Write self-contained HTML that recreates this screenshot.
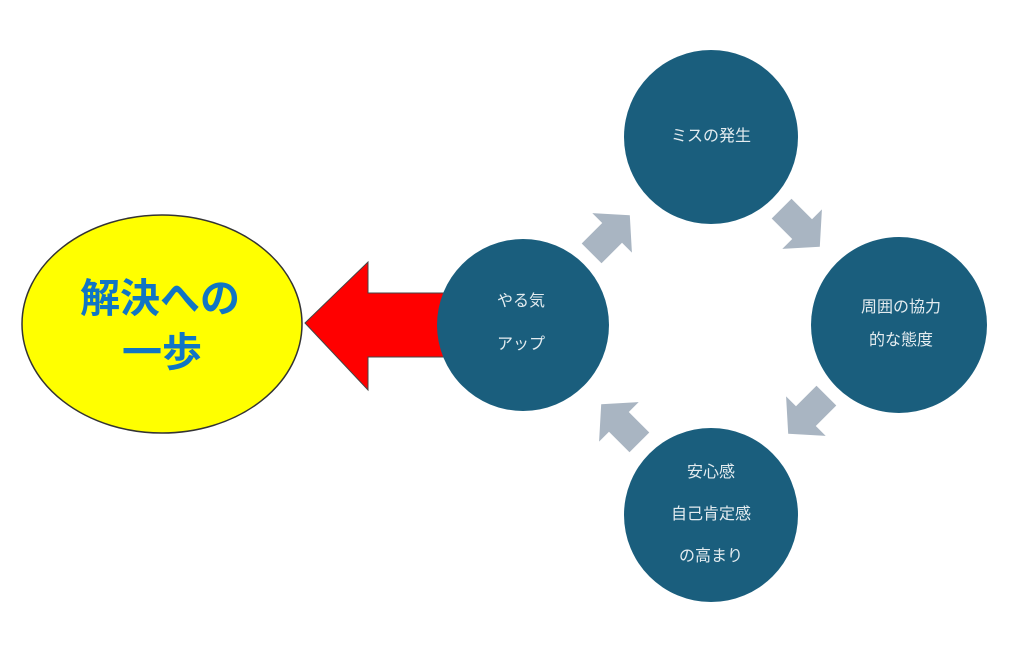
<!DOCTYPE html>
<html><head><meta charset="utf-8"><style>
html,body{margin:0;padding:0;background:#fff;width:1024px;height:648px;overflow:hidden}
svg text{font-family:"Liberation Sans","Noto Sans CJK JP",sans-serif}
</style></head><body>
<svg width="1024" height="648" viewBox="0 0 1024 648" xmlns="http://www.w3.org/2000/svg">
<defs>
<polygon id="ga" points="-26,-14 3,-14 3,-28 28,0 3,28 3,14 -26,14" fill="#a9b5c2"/>
</defs>
<ellipse cx="162" cy="324" rx="140" ry="109" fill="#ffff00" stroke="#333" stroke-width="1.5"/>
<text x="160" y="312" font-size="40" font-weight="bold" fill="#1075c4" text-anchor="middle">解決への</text>
<text x="162" y="366" font-size="40" font-weight="bold" fill="#1075c4" text-anchor="middle">一歩</text>
<polygon points="305,323 368,262 368,293 450,293 450,357 368,357 368,390" fill="#ff0000" stroke="#444" stroke-width="1"/>
<g fill="#1a5e7d">
<circle cx="523" cy="325" r="86"/>
<circle cx="711" cy="137" r="87"/>
<circle cx="899" cy="325" r="88"/>
<circle cx="711" cy="515" r="87"/>
</g>
<use href="#ga" transform="translate(610,235) rotate(-45)"/>
<use href="#ga" transform="translate(800,227) rotate(45)"/>
<use href="#ga" transform="translate(808,414) rotate(135)"/>
<use href="#ga" transform="translate(621,424) rotate(-135)"/>
<g fill="#e4ecf0" font-size="16" text-anchor="middle">
<text x="711" y="141">ミスの発生</text>
<text x="521" y="306">やる気</text>
<text x="521" y="349">アップ</text>
<text x="901" y="312">周囲の協力</text>
<text x="901" y="345">的な態度</text>
<text x="711" y="477">安心感</text>
<text x="711" y="519">自己肯定感</text>
<text x="711" y="561">の高まり</text>
</g>
</svg>
</body></html>
